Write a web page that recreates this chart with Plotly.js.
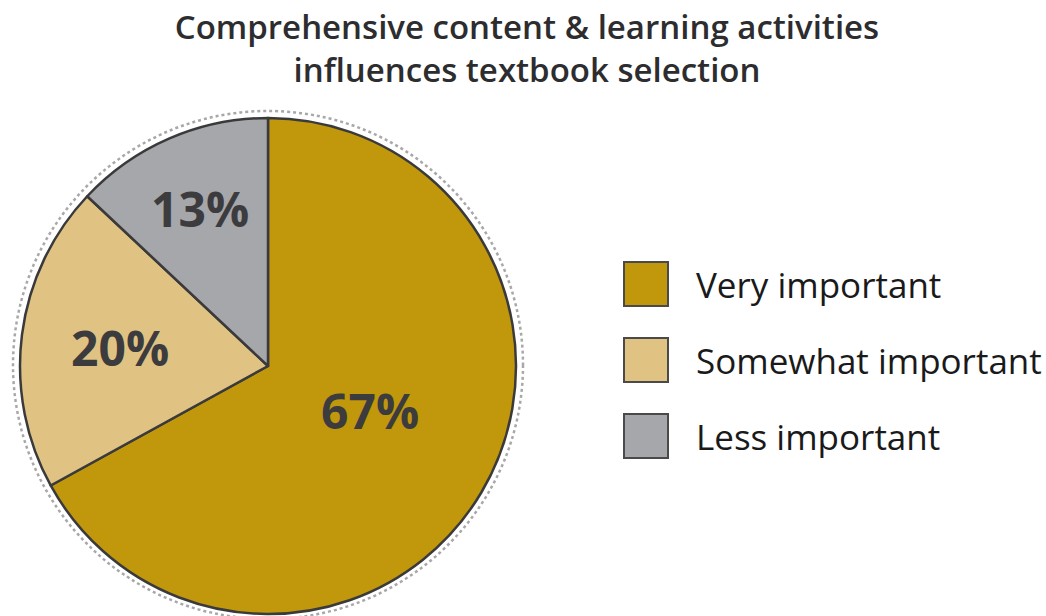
<!DOCTYPE html>
<html>
<head>
<meta charset="utf-8">
<script src="https://cdn.plot.ly/plotly-3.0.1.min.js"></script>
<style>html,body{margin:0;padding:0;background:#fff;}#chart{width:1046px;height:616px;}</style>
</head>
<body>
<div id="chart"></div>
<script>
var categories = ["Very important", "Somewhat important", "Less important"];
var values = [67, 20, 13];
var colors = ["#C1970B", "#E0C383", "#A6A7AB"];
var titleText = "Comprehensive content & learning activities<br>influences textbook selection";

var W = 1046, H = 616;
var cx = 268, cy = 366, R = 248;
var labelRadius = [0.45, 0.60, 0.69];
var labelAngleShift = [-7, 0, 0];

var trace = {
  type: "pie",
  labels: categories,
  values: values,
  sort: false,
  direction: "clockwise",
  rotation: 0,
  marker: {colors: colors, line: {color: "#3a3a3c", width: 2.5}},
  textinfo: "none",
  hoverinfo: "label+percent",
  showlegend: false,
  domain: {x: [(cx - R) / W, (cx + R) / W], y: [1 - (cy + R) / H, 1 - (cy - R) / H]}
};

var shapes = [{
  type: "circle", xref: "paper", yref: "paper",
  x0: (cx - 255) / W, x1: (cx + 255) / W,
  y0: 1 - (cy + 253) / H, y1: 1 - (cy - 255) / H,
  line: {color: "#a8a8a8", width: 2.5, dash: "dot"}, layer: "below"
}];
var annotations = [];

// slice labels placed along each slice's mid angle
var total = values.reduce(function (a, b) { return a + b; }, 0);
var cum = 0;
values.forEach(function (v, i) {
  var mid = (cum + v / 2) / total * 2 * Math.PI + labelAngleShift[i] * Math.PI / 180;
  cum += v;
  var r = labelRadius[i] * R;
  var px = cx + r * Math.sin(mid), py = cy - r * Math.cos(mid);
  annotations.push({
    xref: "paper", yref: "paper", x: px / W, y: 1 - py / H,
    xanchor: "center", yanchor: "middle", showarrow: false,
    text: Math.round(v / total * 100) + "%",
    font: {family: "Open Sans, sans-serif", size: 48, color: "#3c3c3e", weight: 700}
  });
});

var legX = 624, legY0 = 284, legStep = 76, sq = 44;
categories.forEach(function (c, i) {
  var yc = legY0 + i * legStep;
  shapes.push({
    type: "rect", xref: "paper", yref: "paper",
    x0: legX / W, x1: (legX + sq) / W,
    y0: 1 - (yc + sq / 2) / H, y1: 1 - (yc - sq / 2) / H,
    fillcolor: colors[i], line: {color: "#4a4a4a", width: 2}
  });
  annotations.push({
    xref: "paper", yref: "paper", x: 694 / W, y: 1 - yc / H,
    xanchor: "left", yanchor: "middle", showarrow: false,
    text: c, font: {family: "Open Sans, sans-serif", size: 35, color: "#1a1a1a"}
  });
});

var layout = {
  width: W, height: H,
  margin: {l: 0, r: 0, t: 0, b: 0},
  paper_bgcolor: "#ffffff",
  title: {
    text: titleText, x: 527 / W, xanchor: "center", y: 1 - 39 / H, yanchor: "middle",
    font: {family: "Open Sans, sans-serif", size: 33, color: "#2d2d2f", weight: 600}
  },
  shapes: shapes,
  annotations: annotations,
  showlegend: false
};

Plotly.newPlot("chart", [trace], layout, {displayModeBar: false});
</script>
</body>
</html>
